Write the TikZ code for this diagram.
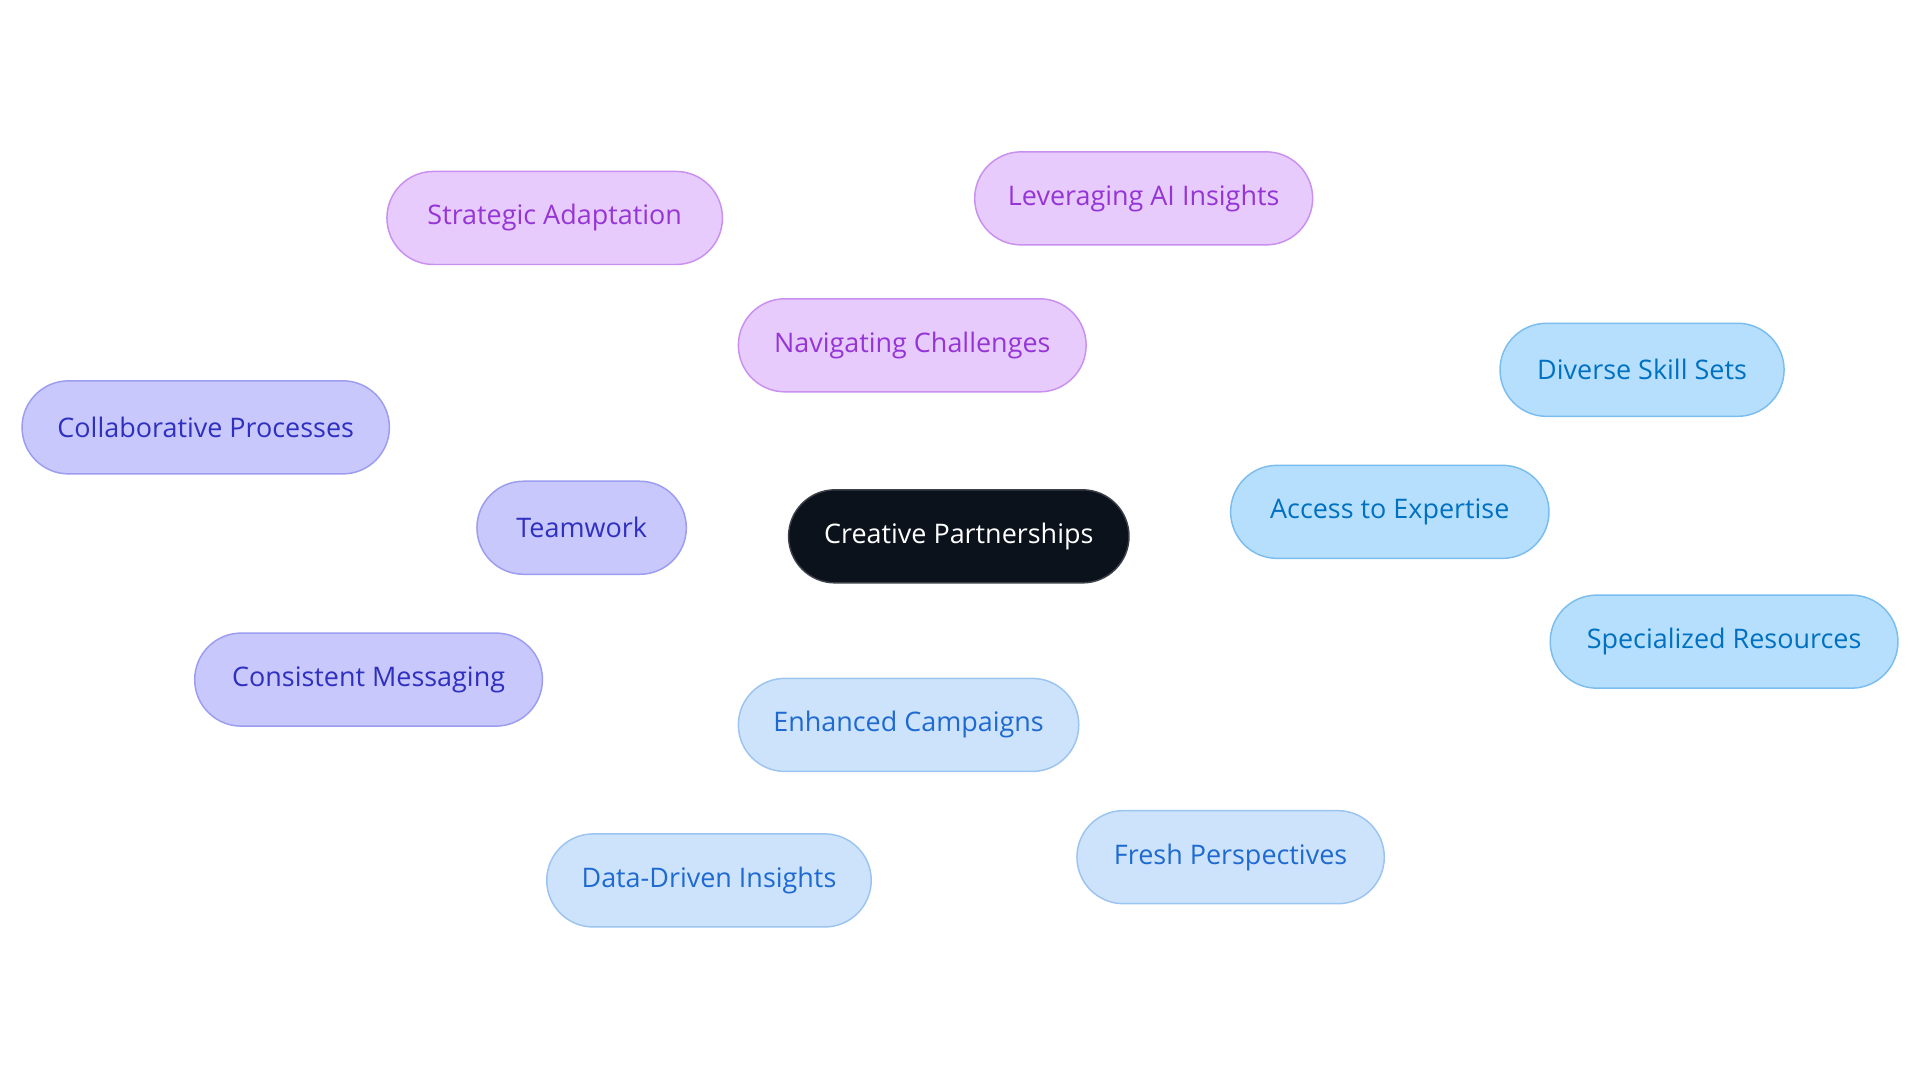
\documentclass[tikz,border=0pt]{standalone}
\usepackage{fontspec}
\setmainfont{Open Sans}
\usetikzlibrary{backgrounds}
\definecolor{pf}{HTML}{E8CBFD}\definecolor{pb}{HTML}{C990F0}\definecolor{pt}{HTML}{9535D5}
\definecolor{if}{HTML}{C8C8FD}\definecolor{ib}{HTML}{9C9CF0}\definecolor{it}{HTML}{2F2FC0}
\definecolor{bf}{HTML}{B6DFFD}\definecolor{bb}{HTML}{7BBDEE}\definecolor{bt}{HTML}{0070C0}
\definecolor{lf}{HTML}{CDE3FB}\definecolor{lb}{HTML}{9CC4F0}\definecolor{lt}{HTML}{1E6AD0}
\definecolor{cf}{HTML}{0B121C}
\tikzset{x=0.5pt,y=-0.5pt,
 box/.style={rectangle,rounded corners=19pt,minimum height=38pt,line width=0.6pt,font=\fontsize{11}{13}\selectfont,inner sep=0pt},
 pnode/.style={box,fill=pf,draw=pb,text=pt},
 inode/.style={box,fill=if,draw=ib,text=it},
 bnode/.style={box,fill=bf,draw=bb,text=bt},
 lnode/.style={box,fill=lf,draw=lb,text=lt},
 edge/.style={line width=1.5pt}}
\begin{document}
\begin{tikzpicture}
\useasboundingbox[fill=white] (0,0) rectangle (1568,884);
\node[box,fill=cf,draw=cf!80,text=white,minimum width=139pt] (c) at (783,438) {Creative Partnerships};
\node[pnode,minimum width=142pt] (nav) at (745,282) {Navigating Challenges};
\node[pnode,minimum width=137pt] (sa) at (453,178) {Strategic Adaptation};
\node[pnode,minimum width=138pt] (ai) at (934,162) {Leveraging AI Insights};
\node[inode,minimum width=85.5pt] (tw) at (475,431) {Teamwork};
\node[inode,minimum width=150pt] (cp) at (168,349) {Collaborative Processes};
\node[inode,minimum width=142pt] (cm) at (301,555) {Consistent Messaging};
\node[bnode,minimum width=130pt] (ae) at (1135,418) {Access to Expertise};
\node[bnode,minimum width=116pt] (ds) at (1341,302) {Diverse Skill Sets};
\node[bnode,minimum width=142pt] (sr) at (1408,524) {Specialized Resources};
\node[lnode,minimum width=139pt] (ec) at (742,592) {Enhanced Campaigns};
\node[lnode,minimum width=132.5pt] (dd) at (579,719) {Data-Driven Insights};
\node[lnode,minimum width=125.5pt] (fp) at (1005,700) {Fresh Perspectives};
\begin{scope}[on background layer]
\draw[edge,draw=pb] (c.center)--(nav.center) (nav.center)--(sa.center) (nav.center)--(ai.center);
\draw[edge,draw=ib] (c.center)--(tw.center) (tw.center)--(cp.center) (tw.center)--(cm.center);
\draw[edge,draw=bb] (c.center)--(ae.center) (ae.center)--(ds.center) (ae.center)--(sr.center);
\draw[edge,draw=lb] (c.center)--(ec.center) (ec.center)--(dd.center) (ec.center)--(fp.center);
\end{scope}
\end{tikzpicture}
\end{document}
